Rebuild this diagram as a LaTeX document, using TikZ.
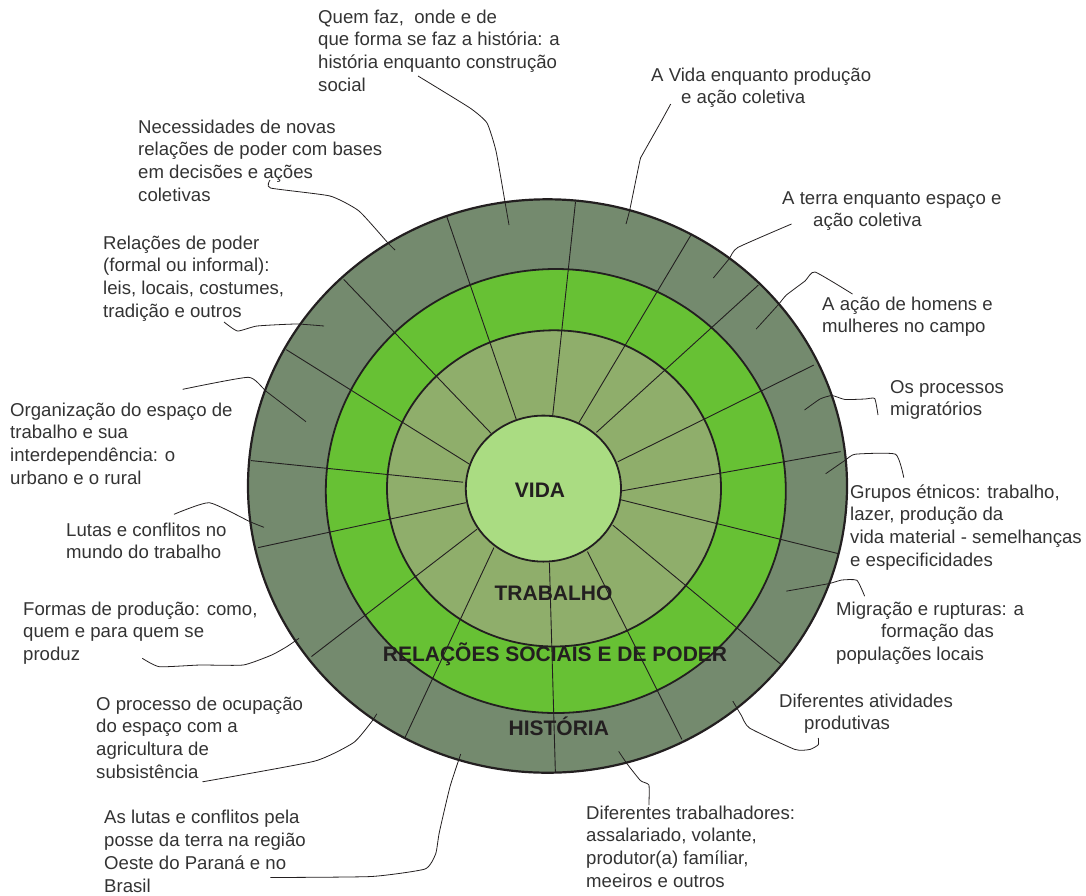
\documentclass[tikz,border=0pt]{standalone}
\usepackage{fontspec}
\setmainfont{Liberation Sans}

\definecolor{historia}{HTML}{748A6E}
\definecolor{relacoes}{HTML}{67C134}
\definecolor{trabalho}{HTML}{8FAE6B}
\definecolor{vida}{HTML}{AADC82}
\definecolor{traco}{HTML}{231F20}
\definecolor{texto}{HTML}{333333}

\newcommand{\anel}[5]{%
  \draw [fill=#1, draw=traco, line width=#5] (#2) ellipse [x radius=#3pt, y radius=#4pt];}

% #2 is the baseline of the last line of the text
\newcommand{\tema}[6]{%
  \node [tema] (#1) at (#2) {#3};
  \coordinate (#1-fim) at (#4);
  \coordinate (#1-ponta) at (#6);
  \draw [fio] plot [smooth, tension=0.3] coordinates {(#1-fim) #5 (#1-ponta)};}

\tikzset{
  tema/.style={anchor=base west, align=left, inner sep=0pt, text=texto,
    font=\fontsize{18.6}{22.7}\selectfont},
  faixa/.style={anchor=base, inner sep=0pt, text=traco,
    font=\bfseries\fontsize{21}{21}\selectfont},
  raio/.style={draw=traco, line width=0.9pt},
  fio/.style={draw=traco, line width=0.8pt}
}

\begin{document}
\begin{tikzpicture}[x=1pt, y=-1pt]
\useasboundingbox (0,0) rectangle (1086,895);

%\draw [red] (547.5,486) circle (2pt);
\anel{historia}{547.5,486}{299.5}{286.7}{2.2pt}
\anel{relacoes}{555.8,491}{230}{222}{1.8pt}
\anel{trabalho}{554,488.4}{167}{158.1}{1.8pt}

\begin{scope}
\clip (547.5,486) ellipse [x radius=299.5pt, y radius=286.7pt];
\foreach \xa/\ya/\xb/\yb in {575.5/201.8/552.6/416.5, 446.9/216.9/516.4/419.8,
    690.8/235.3/578.7/423, 343.7/279.4/491.1/433.3, 758.3/285.1/596.4/432.4,
    286.2/349.6/469/463.9, 813.7/365.1/617.7/461.8, 251.2/460.6/463/482.2,
    840.6/451.6/617.7/491.6, 258.1/547.6/465.8/502.7, 838.6/553.7/620.9/499.8,
    311.5/656.5/477/529.2, 780.4/663.9/612.8/525.1, 404.7/738.2/493.9/547.6,
    681.9/739.4/587.5/551.6, 555.4/773.3/549.4/562.7}
  \draw [raio] (\xa,\ya) -- (\xb,\yb);
\end{scope}

\anel{vida}{543.4,488.6}{77.6}{73}{1.8pt}

\node [faixa] (vida) at (540,497.5) {VIDA};
\node [faixa] (trabalho) at (553.5,600.3) {TRABALHO};
\node [faixa] (relacoes) at (555,661) {RELAÇÕES SOCIAIS E DE PODER};
\node [faixa] (historia) at (558.8,735.8) {HISTÓRIA};

\tema{quem}{318,91.1}{Quem faz,~ onde e de\\que forma se faz a história: a\\história enquanto construção\\social}{418,76}{(470,108) (487,123) (496,151) (505,202)}{509,225}
\tema{producao}{651,103.7}{A Vida enquanto produção\\\hspace*{30pt}e ação coletiva}{670.7,104}{(660.6,122.4) (642.2,155) (639.8,161) (629.8,209.7)}{626,224}
\tema{necessidades}{138,201.1}{Necessidades de novas\\relações de poder com bases\\em decisões e ações\\coletivas}{270,180}{(270.5,188) (330,196) (359,211) (388,243)}{395,250}
\tema{terra}{782,226.7}{A terra enquanto espaço e\\\hspace*{31pt}ação coletiva}{791.5,224}{(737.8,247.5) (729,259)}{713.3,278}
\tema{poder}{103,317.1}{Relações de poder\\(formal ou informal):\\leis, locais, costumes,\\tradição e outros}{224,322}{(237.5,331) (257,326) (296,324)}{324,326}
\tema{homens}{822,332.7}{A ação de homens e\\mulheres no campo}{852.5,294}{(815,272) (805,281) (786.4,295) (778,305)}{756.2,329}
\tema{processos}{890,415.7}{Os processos\\migratórios}{878,415}{(874.7,398.5) (865,399) (845,399.5) (832,395.5) (820,399)}{804.5,410}
\tema{organizacao}{10,484.1}{Organização do espaço de\\trabalho e sua\\interdependência: o\\urbano e o rural}{182.7,389.3}{(248.3,377.3) (266.7,391.7)}{306,421.7}
\tema{grupos}{850,566.1}{Grupos étnicos: trabalho,\\lazer, produção da\\vida material - semelhanças\\e especificidades}{903.8,477.7}{(895.5,454.2) (855.2,454.2) (845.1,460.3)}{825.7,473.7}
\tema{lutastrabalho}{66,558.7}{Lutas e conflitos no\\mundo do trabalho}{174,514.3}{(209.3,502.7) (250,521.7)}{264,527.3}
\tema{formas}{23,660.4}{Formas de produção: como,\\quem e para quem se\\produz}{142.3,658.3}{(159.3,666.7) (200,665) (243.3,665) (271.7,655) (286.7,646.7)}{299,638.3}
\tema{migracao}{836,660.4}{Migração e rupturas: a\\\hspace*{45pt}formação das\\populações locais}{864.6,596.1}{(856.9,580.3) (841.8,580) (828.4,583.7)}{786.4,591.1}
\tema{atividades}{779,729.7}{Diferentes atividades\\\hspace*{25pt}produtivas}{818.3,738}{(818.3,744.7) (810,749.4) (794.8,749.4) (749.5,728) (741.2,715.2)}{732.8,701.1}
\tema{ocupacao}{96,778.1}{O processo de ocupação\\do espaço com a\\agricultura de\\subsistência}{202.5,781.8}{(314.3,761.2) (353.6,742.6) (371.4,722)}{376.8,713.8}
\tema{lutasterra}{104,892}{As lutas e conflitos pela\\posse da terra na região\\Oeste do Paraná e no\\Brasil}{270.4,877.5}{(371.4,876.5) (425,869) (435.7,853.7) (439.3,832.4) (450,786.7)}{460.7,754}
\tema{trabalhadores}{586,887.1}{Diferentes trabalhadores:\\assalariado, volante,\\produtor(a) famíliar,\\meeiros e outros}{648.9,805.1}{(648.9,785) (640.5,780.6) (627.1,763.8)}{618.7,751.4}

\end{tikzpicture}
\end{document}
